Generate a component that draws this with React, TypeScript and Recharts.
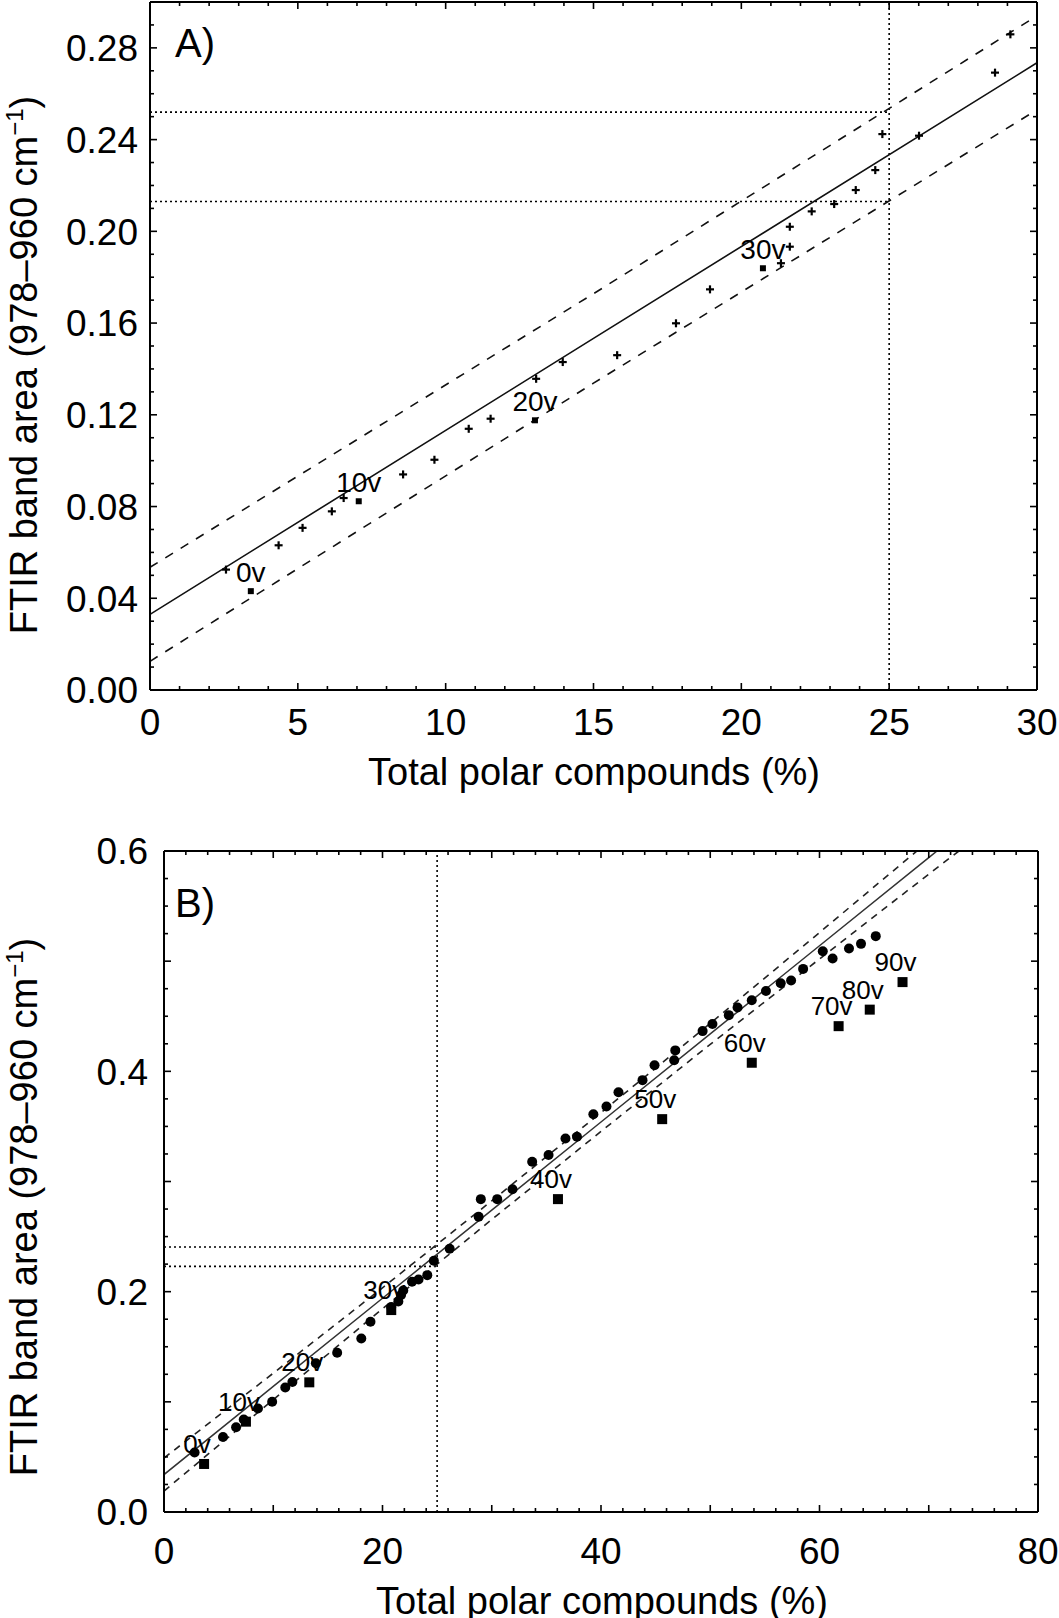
import { ComposedChart, Line, Scatter, XAxis, YAxis, ReferenceLine } from 'recharts';

const FONT = '"Liberation Sans", Arial, Helvetica, sans-serif';

// ---- Panel A (0-30 % TPC) ----
const fitAX = [0, 15, 30];
const fitAY = [0.033, 0.1533, 0.2735];
const upperAY = [0.0535, 0.1728, 0.294];
const lowerAY = [0.0125, 0.1338, 0.253];

const plusAX = [2.57, 4.35, 5.16, 6.15, 6.55, 8.56, 9.62, 10.78, 11.52, 13.06, 13.96, 15.8, 17.79, 18.94, 21.34, 21.64, 21.64, 22.38, 23.14, 23.87, 24.53, 24.77, 26.01, 28.58, 29.1];
const plusAY = [0.0525, 0.0631, 0.0707, 0.0779, 0.0837, 0.094, 0.1004, 0.1139, 0.1183, 0.1357, 0.143, 0.146, 0.1599, 0.1747, 0.1861, 0.1933, 0.202, 0.2087, 0.2119, 0.218, 0.2267, 0.2424, 0.2417, 0.2692, 0.2859];

const sqAX = [3.41, 7.06, 13.02, 20.73];
const sqAY = [0.0431, 0.0823, 0.1176, 0.1839];
const sqALabels = ['0v', '10v', '20v', '30v'];

const refAX = 25;
const refAY = [0.252, 0.213];

// ---- Panel B (0-80 % TPC) ----
const fitBX = [0, 10, 20, 30, 40, 50, 60, 70, 75];
const fitBY = [0.034, 0.114, 0.194, 0.274, 0.354, 0.434, 0.514, 0.594, 0.634];
const upperBY = [0.049, 0.126, 0.2035, 0.2825, 0.3625, 0.4435, 0.526, 0.609, 0.651];
const lowerBY = [0.019, 0.102, 0.1845, 0.2655, 0.3455, 0.4245, 0.502, 0.579, 0.617];

const dotBX = [2.8, 5.4, 6.6, 7.3, 8.6, 9.9, 11.1, 11.75, 13.9, 15.85, 18.06, 18.9, 20.8, 21.45, 21.7, 21.9, 22.7, 23.3, 24.1, 24.7, 26.15, 28.8, 29.0, 30.5, 31.9, 33.7, 35.2, 36.75, 37.8, 39.3, 40.5, 41.6, 43.8, 44.9, 46.7, 46.8, 49.3, 50.2, 51.7, 52.5, 53.8, 55.1, 56.45, 57.4, 58.5, 60.3, 61.2, 62.7, 63.8, 65.15];
const dotBY = [0.054, 0.068, 0.077, 0.084, 0.094, 0.1, 0.113, 0.118, 0.135, 0.1446, 0.1575, 0.1727, 0.186, 0.191, 0.197, 0.201, 0.209, 0.211, 0.215, 0.228, 0.239, 0.268, 0.284, 0.284, 0.293, 0.318, 0.324, 0.339, 0.3406, 0.361, 0.368, 0.381, 0.392, 0.4056, 0.41, 0.419, 0.4365, 0.443, 0.451, 0.458, 0.4646, 0.473, 0.48, 0.4825, 0.493, 0.509, 0.5024, 0.5115, 0.5157, 0.5227];

const sqBX = [3.67, 7.5, 13.3, 20.8, 36.06, 45.6, 53.8, 61.75, 64.6, 67.6];
const sqBY = [0.0436, 0.082, 0.1177, 0.1833, 0.284, 0.3566, 0.4078, 0.441, 0.456, 0.481];
const sqBLabels = ['0v', '10v', '20v', '30v', '40v', '50v', '60v', '70v', '80v', '90v'];

const refBX = 25;
const refBY = [0.2405, 0.223];

// ---- ticks ----
const range = (a: number, b: number, step: number) => {
  const out: number[] = [];
  for (let i = 0; a + i * step <= b + 1e-9; i++) out.push(+(a + i * step).toFixed(4));
  return out;
};
const xTicksA = range(0, 30, 1);
const xLabelsA = [0, 5, 10, 15, 20, 25, 30];
const yTicksA = range(0, 0.3, 0.01);
const yLabelsA = [0, 0.04, 0.08, 0.12, 0.16, 0.2, 0.24, 0.28];

const xTicksB = range(0, 80, 2);
const xLongB = [0, 10, 20, 30, 40, 50, 60, 70, 80];
const xLabelsB = [0, 20, 40, 60, 80];
const yTicksB = range(0, 0.6, 0.025);
const yLongB = [0, 0.1, 0.2, 0.3, 0.4, 0.5, 0.6];
const yLabelsB = [0, 0.2, 0.4, 0.6];

const pts = (xs: number[], ys: number[]) => xs.map((x, i) => ({ x, y: ys[i] }));
const labeled = (xs: number[], ys: number[], ls: string[]) => xs.map((x, i) => ({ x, y: ys[i], label: ls[i] }));
const has = (arr: number[], v: number) => arr.some(a => Math.abs(a - v) < 1e-6);

type Side = 'bottom' | 'top' | 'left' | 'right';

function axisTick(side: Side, longs: number[], labels: number[], fmt: (v: number) => string, gap: number) {
  return (p: any) => {
    const { x, y, payload } = p;
    const v = payload.value;
    const len = has(longs, v) ? 7 : 4;
    let line;
    if (side === 'bottom') line = <line x1={x} x2={x} y1={y} y2={y - len} />;
    else if (side === 'top') line = <line x1={x} x2={x} y1={y} y2={y + len} />;
    else if (side === 'left') line = <line x1={x} x2={x + len} y1={y} y2={y} />;
    else line = <line x1={x} x2={x - len} y1={y} y2={y} />;
    let label = null;
    if (has(labels, v)) {
      if (side === 'bottom')
        label = (
          <text x={x} y={y + gap} textAnchor="middle" fontSize={37} fontFamily={FONT} fill="#000">
            {fmt(v)}
          </text>
        );
      else if (side === 'left')
        label = (
          <text x={x - gap} y={y} dy="0.36em" textAnchor="end" fontSize={37} fontFamily={FONT} fill="#000">
            {fmt(v)}
          </text>
        );
    }
    return (
      <g>
        <g stroke="#000" strokeWidth={1.6}>{line}</g>
        {label}
      </g>
    );
  };
}

const plusShape = (p: any) => {
  const { cx, cy } = p;
  return (
    <g stroke="#000" strokeWidth={2.2}>
      <line x1={cx - 4} x2={cx + 4} y1={cy} y2={cy} />
      <line x1={cx} x2={cx} y1={cy - 4} y2={cy + 4} />
    </g>
  );
};

const dotShape = (p: any) => <circle cx={p.cx} cy={p.cy} r={5} fill="#000" />;

const squareShape = (size: number, fontSize: number, dx: number, dy: number) => (p: any) => {
  const { cx, cy, payload } = p;
  return (
    <g>
      <rect x={cx - size / 2} y={cy - size / 2} width={size} height={size} fill="#000" />
      <text x={cx + dx} y={cy + dy} textAnchor="middle" fontSize={fontSize} fontFamily={FONT} fill="#000">
        {payload.label}
      </text>
    </g>
  );
};

const yTitle = (cx: number, cy: number) => () => (
  <text transform={`translate(${cx},${cy}) rotate(-90)`} textAnchor="middle" fontSize={38} fontFamily={FONT} fill="#000">
    FTIR band area (978–960 cm<tspan dy={-14} fontSize={24}>−1</tspan>
    <tspan dy={14}>)</tspan>
  </text>
);

const xTitle = (cx: number, baseline: number) => () => (
  <text x={cx} y={baseline} textAnchor="middle" fontSize={38} fontFamily={FONT} fill="#000">
    Total polar compounds (%)
  </text>
);

const panelTag = (tag: string, x: number, baseline: number) => () => (
  <text x={x} y={baseline} fontSize={40} fontFamily={FONT} fill="#000">
    {tag}
  </text>
);

const axisLine = { stroke: '#000', strokeWidth: 2 };
const dotted = { stroke: '#000', strokeWidth: 1.6, strokeDasharray: '2 3' };
const fmt2 = (v: number) => v.toFixed(2);
const fmt1 = (v: number) => v.toFixed(1);
const fmt0 = (v: number) => String(v);

function PanelA() {
  return (
    <ComposedChart width={1059} height={810} margin={{ top: 0, right: 0, bottom: 0, left: 0 }}>
      <XAxis
        dataKey="x"
        type="number"
        domain={[0, 30]}
        allowDataOverflow
        ticks={xTicksA}
        interval={0}
        tickSize={0}
        tickMargin={0}
        tickLine={false}
        tick={axisTick('bottom', xLabelsA, xLabelsA, fmt0, 45)}
        axisLine={axisLine}
        height={120}
        label={xTitle(594, 785)}
      />
      <XAxis
        xAxisId="top"
        orientation="top"
        dataKey="x"
        type="number"
        domain={[0, 30]}
        allowDataOverflow
        ticks={xTicksA}
        interval={0}
        tickSize={0}
        tickMargin={0}
        tickLine={false}
        tick={axisTick('top', xLabelsA, [], fmt0, 0)}
        axisLine={axisLine}
        height={2}
        label={panelTag('A)', 175, 57)}
      />
      <YAxis
        dataKey="y"
        type="number"
        domain={[0, 0.3]}
        allowDataOverflow
        ticks={yTicksA}
        interval={0}
        tickSize={0}
        tickMargin={0}
        tickLine={false}
        tick={axisTick('left', yLabelsA, yLabelsA, fmt2, 12)}
        axisLine={axisLine}
        width={150}
        label={yTitle(37, 365)}
      />
      <YAxis
        yAxisId="right"
        orientation="right"
        dataKey="y"
        type="number"
        domain={[0, 0.3]}
        allowDataOverflow
        ticks={yTicksA}
        interval={0}
        tickSize={0}
        tickMargin={0}
        tickLine={false}
        tick={axisTick('right', yLabelsA, [], fmt2, 0)}
        axisLine={axisLine}
        width={22}
      />
      <ReferenceLine x={refAX} {...dotted} />
      {refAY.map(v => (
        <ReferenceLine key={v} segment={[{ x: 0, y: v }, { x: refAX, y: v }]} {...dotted} />
      ))}
      <Line data={pts(fitAX, upperAY)} dataKey="y" type="linear" stroke="#111" strokeWidth={1.6} strokeDasharray="9 9" dot={false} activeDot={false} isAnimationActive={false} />
      <Line data={pts(fitAX, lowerAY)} dataKey="y" type="linear" stroke="#111" strokeWidth={1.6} strokeDasharray="9 9" dot={false} activeDot={false} isAnimationActive={false} />
      <Line data={pts(fitAX, fitAY)} dataKey="y" type="linear" stroke="#111" strokeWidth={1.6} dot={false} activeDot={false} isAnimationActive={false} />
      <Line data={pts(fitAX, fitAY)} xAxisId="top" yAxisId="right" dataKey="y" stroke="none" dot={false} activeDot={false} isAnimationActive={false} />
      <Scatter data={pts(plusAX, plusAY)} dataKey="y" shape={plusShape} isAnimationActive={false} />
      <Scatter data={labeled(sqAX, sqAY, sqALabels)} dataKey="y" shape={squareShape(6, 28, 0, -9)} isAnimationActive={false} />
    </ComposedChart>
  );
}

function PanelB() {
  return (
    <ComposedChart width={1059} height={808} margin={{ top: 0, right: 0, bottom: 0, left: 0 }}>
      <XAxis
        dataKey="x"
        type="number"
        domain={[0, 80]}
        allowDataOverflow
        ticks={xTicksB}
        interval={0}
        tickSize={0}
        tickMargin={0}
        tickLine={false}
        tick={axisTick('bottom', xLongB, xLabelsB, fmt0, 52)}
        axisLine={axisLine}
        height={106}
        label={xTitle(602, 804)}
      />
      <XAxis
        xAxisId="top"
        orientation="top"
        dataKey="x"
        type="number"
        domain={[0, 80]}
        allowDataOverflow
        ticks={xTicksB}
        interval={0}
        tickSize={0}
        tickMargin={0}
        tickLine={false}
        tick={axisTick('top', xLongB, [], fmt0, 0)}
        axisLine={axisLine}
        height={41}
        label={panelTag('B)', 175, 107)}
      />
      <YAxis
        dataKey="y"
        type="number"
        domain={[0, 0.6]}
        allowDataOverflow
        ticks={yTicksB}
        interval={0}
        tickSize={0}
        tickMargin={0}
        tickLine={false}
        tick={axisTick('left', yLongB, yLabelsB, fmt1, 16)}
        axisLine={axisLine}
        width={164}
        label={yTitle(37, 397)}
      />
      <YAxis
        yAxisId="right"
        orientation="right"
        dataKey="y"
        type="number"
        domain={[0, 0.6]}
        allowDataOverflow
        ticks={yTicksB}
        interval={0}
        tickSize={0}
        tickMargin={0}
        tickLine={false}
        tick={axisTick('right', yLongB, [], fmt1, 0)}
        axisLine={axisLine}
        width={21}
      />
      <ReferenceLine x={refBX} {...dotted} />
      {refBY.map(v => (
        <ReferenceLine key={v} segment={[{ x: 0, y: v }, { x: refBX, y: v }]} {...dotted} />
      ))}
      <Line data={pts(fitBX, upperBY)} dataKey="y" type="linear" stroke="#222" strokeWidth={1.6} strokeDasharray="7 6" dot={false} activeDot={false} isAnimationActive={false} />
      <Line data={pts(fitBX, lowerBY)} dataKey="y" type="linear" stroke="#222" strokeWidth={1.6} strokeDasharray="7 6" dot={false} activeDot={false} isAnimationActive={false} />
      <Line data={pts(fitBX, fitBY)} dataKey="y" type="linear" stroke="#333" strokeWidth={1.5} dot={false} activeDot={false} isAnimationActive={false} />
      <Line data={pts(fitBX, fitBY)} xAxisId="top" yAxisId="right" dataKey="y" stroke="none" dot={false} activeDot={false} isAnimationActive={false} />
      <Scatter data={pts(dotBX, dotBY)} dataKey="y" shape={dotShape} isAnimationActive={false} />
      <Scatter data={labeled(sqBX, sqBY, sqBLabels)} dataKey="y" shape={squareShape(10, 26, -7, -11)} isAnimationActive={false} />
    </ComposedChart>
  );
}

export default function App() {
  return (
    <div style={{ position: 'absolute', left: 0, top: 0, width: 1059, height: 1618, background: '#fff', overflow: 'hidden' }}>
      <div style={{ position: 'absolute', left: 0, top: 0 }}>
        <PanelA />
      </div>
      <div style={{ position: 'absolute', left: 0, top: 810 }}>
        <PanelB />
      </div>
    </div>
  );
}
